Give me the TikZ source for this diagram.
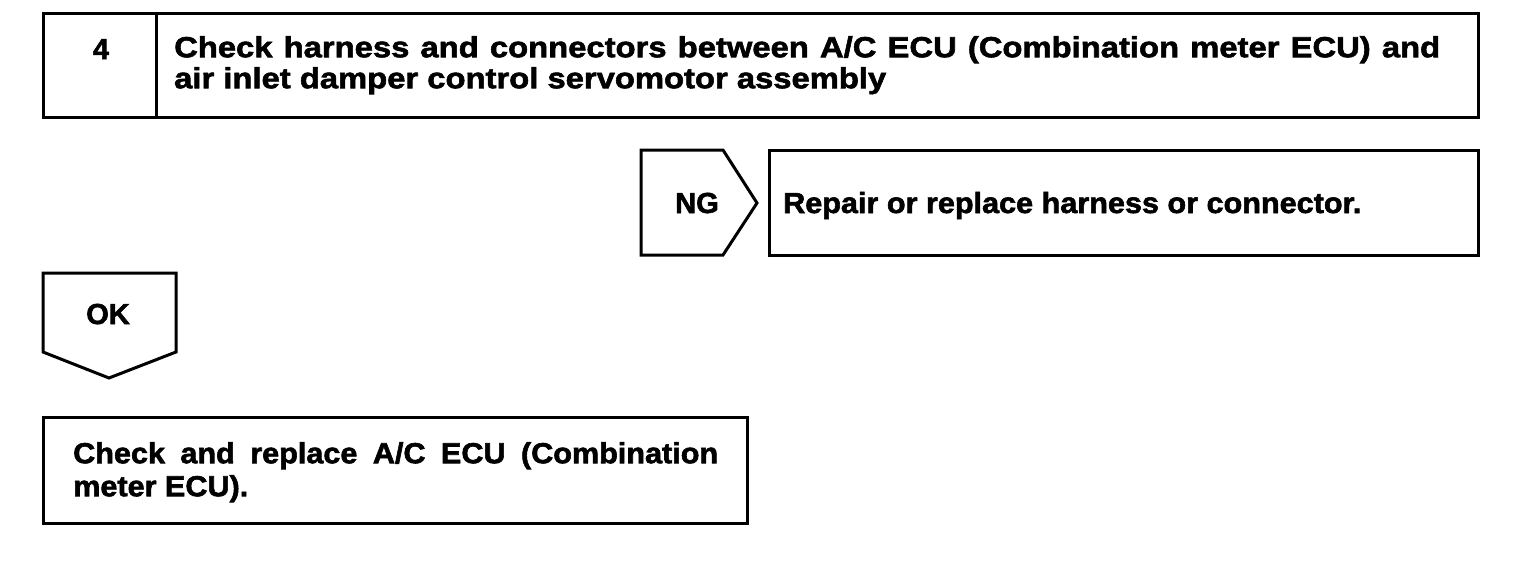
\documentclass[tikz,border=0pt]{standalone}
\usepackage{fontspec}
\setmainfont{Liberation Sans}[BoldFeatures={FakeBold=2}]
\newfontfamily\widefont{Liberation Sans}[BoldFeatures={FakeBold=2,FakeStretch=1.13}]
\newfontfamily\midfont{Liberation Sans}[BoldFeatures={FakeBold=2,FakeStretch=1.055}]
\tikzset{
  frame/.style={line width=3pt, line join=miter},
  txt/.style={font=\bfseries\fontsize{29}{31}\selectfont, inner sep=0pt}
}
\begin{document}
\begin{tikzpicture}[x=1pt,y=-1pt]
\useasboundingbox (0,0) rectangle (1520,560);
% step 4 header
\draw[frame] (43,13) rectangle (1478,117);
\draw[frame] (156,13)--(156,117);
\node[txt, anchor=base](num) at (101,59){4};
\node[txt, anchor=north west, text width=1266pt, align=justify, font=\widefont\bfseries\fontsize{29}{31}\selectfont](title) at (174,36)
  {Check harness and connectors between A/C ECU (Combination meter ECU) and\linebreak
   air inlet damper control servomotor assembly};
% NG branch
\draw[frame] (641,150)--(723,150)--(757,203)--(723,255)--(641,255)--cycle;
\node[txt, anchor=base](ng) at (697,213){NG};
\draw[frame] (769,150) rectangle (1478,255);
\node[txt, anchor=base west, font=\midfont\bfseries\fontsize{29}{31}\selectfont](repair) at (783,213){Repair or replace harness or connector.};
% OK branch
\draw[frame] (43,273)--(176,273)--(176,352)--(109,378)--(43,352)--cycle;
\node[txt, anchor=base](ok) at (108,324){OK};
\draw[frame] (43,417) rectangle (747,523);
\node[txt, anchor=north west, text width=645pt, align=justify, font=\midfont\bfseries\fontsize{29}{33}\selectfont](replace) at (73,442)
  {Check and replace A/C ECU (Combination\linebreak meter ECU).};
\end{tikzpicture}
\end{document}
